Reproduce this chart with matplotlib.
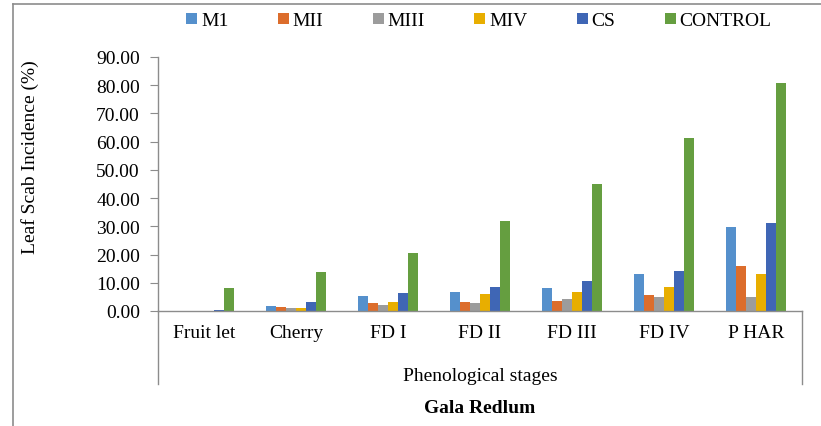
import matplotlib
matplotlib.use('Agg')
import matplotlib.pyplot as plt
import numpy as np

plt.rcParams['font.family'] = ['Liberation Serif', 'DejaVu Serif']
plt.rcParams['font.size'] = 14

stages = ['Fruit let', 'Cherry', 'FD I', 'FD II', 'FD III', 'FD IV', 'P HAR']
series = ['M1', 'MII', 'MIII', 'MIV', 'CS', 'CONTROL']

m1 = [0.0, 1.9, 5.3, 6.9, 8.3, 13.1, 29.7]
m2 = [0.0, 1.4, 2.8, 3.1, 3.4, 5.8, 15.8]
m3 = [0.0, 1.0, 2.3, 2.7, 4.4, 4.8, 5.1]
m4 = [0.0, 1.0, 3.1, 5.9, 6.9, 8.6, 13.1]
cs = [0.5, 3.1, 6.5, 8.6, 10.8, 14.2, 31.1]
control = [8.1, 13.7, 20.7, 31.9, 45.0, 61.3, 80.8]

values = [m1, m2, m3, m4, cs, control]
colors = ['#5590cc', '#dc6d2c', '#9c9c9c', '#e8ae00', '#3f66b5', '#659e40']

fig = plt.figure(figsize=(8.21, 4.27), dpi=100)
ax = fig.add_axes([158 / 821, 1 - 312 / 427, (802 - 158) / 821, (312 - 58) / 427])

x = np.arange(len(stages))
width = 0.108
for i, (name, vals) in enumerate(zip(series, values)):
    ax.bar(x + (i - 2.5) * width, vals, width, color=colors[i], label=name)

ax.set_xlim(-0.5, len(stages) - 0.5)
ax.set_ylim(0, 90)
ax.set_yticks(np.arange(0, 91, 10))
ax.set_yticklabels(['{:.2f}'.format(v) for v in np.arange(0, 91, 10)])
ax.set_xticks(x)
ax.set_xticklabels(stages)

for s in ['top', 'right']:
    ax.spines[s].set_visible(False)
for s in ['left', 'bottom']:
    ax.spines[s].set_color('#8c8c8c')
    ax.spines[s].set_linewidth(1.0)

ax.tick_params(axis='y', direction='out', length=6, color='#8c8c8c', pad=7)
ax.tick_params(axis='x', length=0, pad=9)

# category axis box lines
drop = (385 - 312) / (312 - 58)
ax.plot([0, 0], [0, -drop], transform=ax.transAxes, clip_on=False, color='#8c8c8c', lw=1.0)
ax.plot([1, 1], [0, -drop], transform=ax.transAxes, clip_on=False, color='#8c8c8c', lw=1.0)

fig.text(480 / 821, 1 - 377 / 427, 'Phenological stages', ha='center', va='center', fontsize=14)
fig.text(480 / 821, 1 - 409 / 427, 'Gala Redlum', ha='center', va='center', fontsize=14, fontweight='bold')
fig.text(30 / 821, 1 - 157 / 427, 'Leaf Scab Incidence (%)', ha='center', va='center',
         rotation=90, fontsize=14)

ax.legend(loc='center', bbox_to_anchor=(479 / 821, 1 - 22 / 427), bbox_transform=fig.transFigure,
          ncol=6, frameon=False, handlelength=0.55, handleheight=0.55, handletextpad=0.2,
          columnspacing=2.55, fontsize=14)

# outer frame
fig.add_artist(plt.Line2D([13 / 821, 13 / 821], [0, 1 - 5 / 427], transform=fig.transFigure,
                          color='#8c8c8c', lw=1.2))
fig.add_artist(plt.Line2D([13 / 821, 1], [1 - 5 / 427, 1 - 5 / 427], transform=fig.transFigure,
                          color='#8c8c8c', lw=1.2))

fig.savefig('out.png', dpi=100)
